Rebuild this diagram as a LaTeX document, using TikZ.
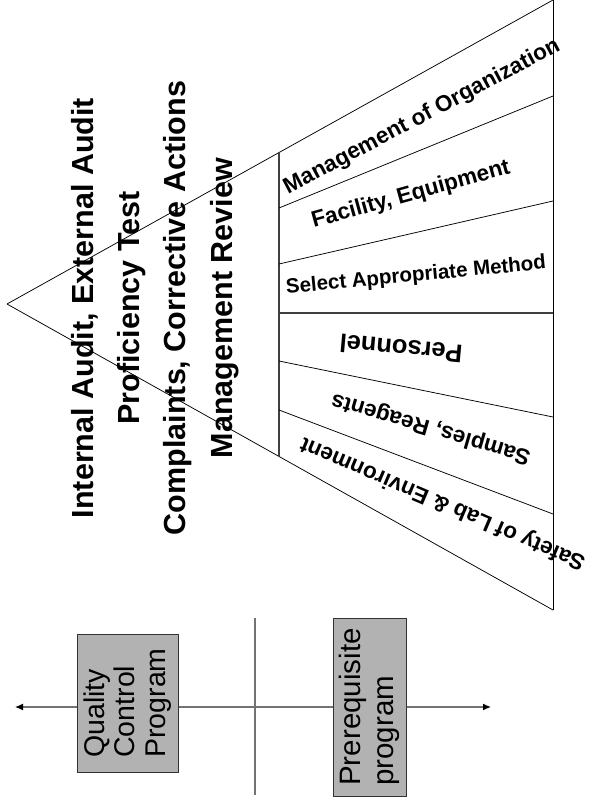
\documentclass[tikz,border=0pt]{standalone}
\usepackage{fontspec}
\setmainfont{Liberation Sans}
\usetikzlibrary{arrows.meta}
\tikzstyle{edge} = [draw=black, line width=0.75pt]
\tikzstyle{split} = [draw=black!75, line width=1.5pt]
\tikzstyle{bigline} = [
    rotate=90,
    anchor=base,
    inner sep=0pt,
    font=\bfseries\fontsize{30.5}{34}\selectfont
]
\tikzstyle{band} = [
    inner sep=0pt,
    font=\bfseries\fontsize{22.5}{26}\selectfont
]
\tikzstyle{program} = [
    rectangle,
    rotate=90,
    draw=black!80,
    line width=1pt,
    fill=black!30,
    align=left,
    inner sep=0pt
]
\tikzstyle{axis} = [draw=black!55, line width=1.3pt,
    {Latex[length=8pt,width=7pt,color=black]}-{Latex[length=8pt,width=7pt,color=black]}]

\begin{document}
\begin{tikzpicture}[x=1pt, y=-1pt]
\useasboundingbox (0,0) rectangle (589,805);

\coordinate (apex) at (7,304);
\coordinate (rtop) at (553,0);
\coordinate (rbot) at (553,610);
\coordinate (itop) at (279,152.5);
\coordinate (ibot) at (279,456);
\coordinate (d1l) at (279,208);
\coordinate (d1r) at (553,96);
\coordinate (d2l) at (279,264);
\coordinate (d2r) at (553,201);
\coordinate (d3l) at (279,313);
\coordinate (d3r) at (553,313);
\coordinate (d4l) at (279,361);
\coordinate (d4r) at (553,417);
\coordinate (d5l) at (279,410);
\coordinate (d5r) at (553,514);

\draw [edge] (apex) -- (rtop);
\draw [edge] (apex) -- (rbot);
\draw [edge] (rtop) -- (rbot);
\draw [split] (itop) -- (ibot);
\draw [split] (d3l) -- (d3r);
\draw [edge] (d1l) -- (d1r);
\draw [edge] (d2l) -- (d2r);
\draw [edge] (d4l) -- (d4r);
\draw [edge] (d5l) -- (d5r);

\node (audit) [bigline] at (93,308) {Internal Audit, External Audit};
\node (proftest) [bigline] at (139.5,308) {Proficiency Test};
\node (complaints) [bigline] at (185.5,308) {Complaints, Corrective Actions};
\node (review) [bigline] at (232,308) {Management Review};

\node (org) [band, rotate=27.8] at (422,117) {Management of Organization};
\node (facility) [band, rotate=15.5] at (411,195) {Facility, Equipment};
\node (method) [band, rotate=5.5, font=\bfseries\fontsize{20.5}{24}\selectfont]
    at (416,276) {Select Appropriate Method};
\node (personnel) [band, rotate=174.8, font=\bfseries\fontsize{25.5}{29}\selectfont]
    at (401,349) {Personnel};
\node (samples) [band, rotate=163.7] at (431,428) {Samples, Reagents};
\node (safety) [band, rotate=156.9] at (443,503) {Safety of Lab \& Environment};

\coordinate (lefttip) at (15,707);
\coordinate (righttip) at (491,707);
\coordinate (divtop) at (255,618);
\coordinate (divbot) at (255,795);

\draw [axis] (lefttip) -- (righttip);
\draw [draw=black!55, line width=1.3pt] (divtop) -- (divbot);

\node (qcprog) [program, minimum width=138pt, minimum height=101pt,
    font=\fontsize{28.5}{30.5}\selectfont] at (127.5,703)
{Quality\\Control\\Program};

\node (prereq) [program, minimum width=178pt, minimum height=73pt,
    font=\fontsize{29.5}{33}\selectfont] at (369.5,707)
{Prerequisite\\program};

\end{tikzpicture}
\end{document}
